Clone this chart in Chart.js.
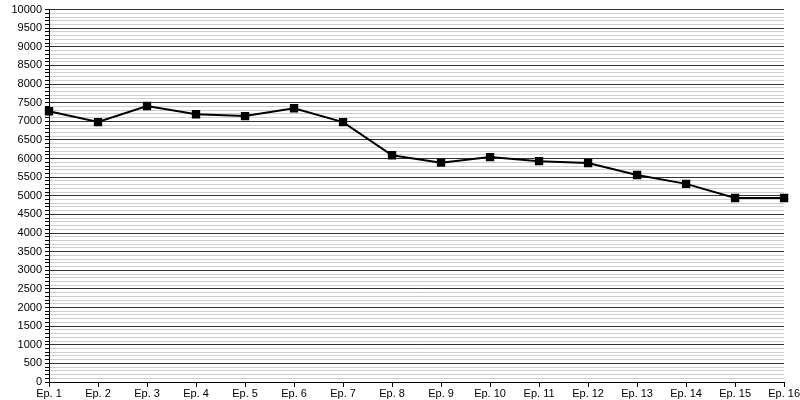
<!DOCTYPE html>
<html>
<head>
<meta charset="utf-8">
<script src="https://cdn.jsdelivr.net/npm/chart.js@4/dist/chart.umd.min.js"></script>
<style>
  html, body { margin: 0; padding: 0; background: #fff; }
  #wrap { width: 800px; height: 400px; }
</style>
</head>
<body>
<div id="wrap"><canvas id="c"></canvas></div>
<script>
// Datos
const episodes = ['Ep. 1', 'Ep. 2', 'Ep. 3', 'Ep. 4', 'Ep. 5', 'Ep. 6', 'Ep. 7', 'Ep. 8',
  'Ep. 9', 'Ep. 10', 'Ep. 11', 'Ep. 12', 'Ep. 13', 'Ep. 14', 'Ep. 15', 'Ep. 16'];
const viewers = [7270, 6980, 7410, 7190, 7140, 7350, 6980, 6090,
  5890, 6040, 5930, 5880, 5560, 5320, 4940, 4940];
const yMin = 0;
const yMax = 10000;
const yMinorStep = 100;
const yLabelStep = 500;

Chart.defaults.font.family = '"Liberation Sans", Arial, sans-serif';
Chart.defaults.font.size = 11;
Chart.defaults.color = '#000';

new Chart(document.getElementById('c'), {
  type: 'line',
  data: {
    labels: episodes,
    datasets: [{
      data: viewers,
      borderColor: '#000',
      borderWidth: 2,
      backgroundColor: '#000',
      pointStyle: 'rect',
      pointRadius: 4.5,
      pointHoverRadius: 4.5,
      tension: 0,
      fill: false,
    }],
  },
  options: {
    responsive: true,
    maintainAspectRatio: false,
    animation: false,
    layout: { padding: { left: 0, right: 15, top: 8, bottom: 0 } },
    plugins: { legend: { display: false }, tooltip: { enabled: false } },
    scales: {
      x: {
        offset: false,
        border: { color: '#000', width: 1 },
        grid: { drawOnChartArea: false, drawTicks: true, tickLength: 5, color: '#000' },
        ticks: { autoSkip: false, maxRotation: 0, padding: 0, color: '#000' },
        afterFit: (s) => { s.height = 18; },
      },
      y: {
        min: yMin,
        max: yMax,
        border: { color: '#000', width: 1 },
        grid: {
          color: (ctx) => (ctx.tick && ctx.tick.value % yLabelStep === 0 ? '#333' : '#cfcfcf'),
          lineWidth: 1,
          tickLength: 4,
          tickColor: '#000',
        },
        ticks: {
          stepSize: yMinorStep,
          autoSkip: false,
          padding: 3,
          color: '#000',
          callback: (v) => (v % yLabelStep === 0 ? String(v) : ''),
        },
        afterFit: (s) => { s.width = 49; },
      },
    },
  },
});
</script>
</body>
</html>
